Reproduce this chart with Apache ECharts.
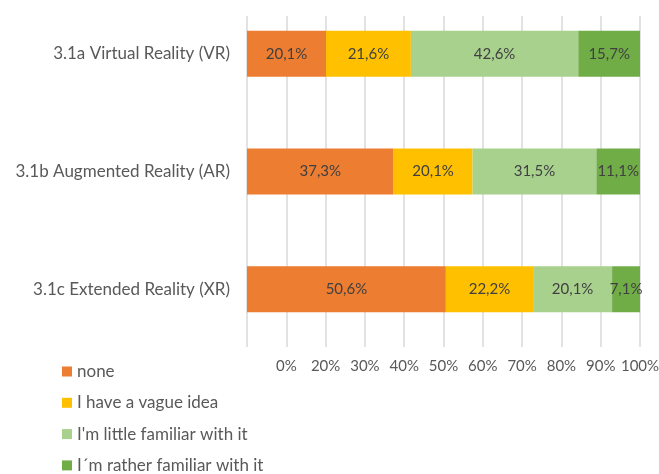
<!DOCTYPE html>
<html>
<head>
<meta charset="utf-8">
<script src="https://cdn.jsdelivr.net/npm/echarts@6/dist/echarts.min.js"></script>
<style>html,body{margin:0;padding:0;background:#fff}#c{width:659px;height:474px}</style>
</head>
<body>
<div id="c"></div>
<script>
const categories = ['3.1a Virtual Reality (VR)', '3.1b Augmented Reality (AR)', '3.1c Extended Reality (XR)'];
const seriesNames = ['none', 'I have a vague idea', "I'm little familiar with it", 'I´m rather familiar with it'];
const noneVals = [20.1, 37.3, 50.6];
const vagueVals = [21.6, 20.1, 22.2];
const littleVals = [42.6, 31.5, 20.1];
const ratherVals = [15.7, 11.1, 7.1];
const tickLabels = ['', '0%', '20%', '30%', '40%', '50%', '60%', '70%', '80%', '90%', '100%'];
const colors = ['#ED7D31', '#FFC000', '#A9D18E', '#70AD47'];

const FONT = 'Lato';
const chart = echarts.init(document.getElementById('c'), null, {renderer: 'canvas'});
const vals = [noneVals, vagueVals, littleVals, ratherVals];
const series = vals.map((d, i) => ({
  name: seriesNames[i],
  type: 'bar',
  stack: 'total',
  xAxisIndex: 0,
  yAxisIndex: 0,
  barWidth: 46,
  data: d,
  itemStyle: {color: colors[i]},
  label: {
    show: true,
    position: 'inside',
    color: '#404040',
    fontFamily: FONT,
    fontSize: 15,
    formatter: p => p.value.toFixed(1).replace('.', ',') + '%'
  }
}));

chart.setOption({
  animation: false,
  color: colors,
  legend: {
    orient: 'vertical',
    left: 57,
    top: 358,
    height: 140,
    itemWidth: 10,
    itemHeight: 10,
    itemGap: 14.3,
    icon: 'rect',
    textStyle: {color: '#595959', fontFamily: FONT, fontSize: 17, lineHeight: 17},
    data: seriesNames
  },
  grid: [
    {left: 247, right: 19, top: -5, height: 353, outerBoundsMode: 'none'},
    {left: 247, right: 19, top: 16, height: 331, outerBoundsMode: 'none'}
  ],
  xAxis: [
    {type: 'value', gridIndex: 0, min: 0, max: 100, interval: 10, show: false},
    {
      type: 'value', gridIndex: 1, min: 0, max: 100, interval: 10,
      axisLine: {show: false}, axisTick: {show: false},
      splitLine: {show: true, lineStyle: {color: '#D9D9D9', width: 1.5}},
      axisLabel: {
        color: '#595959', fontFamily: FONT, fontSize: 15, margin: 12,
        formatter: v => tickLabels[Math.round(v / 10)]
      }
    }
  ],
  yAxis: [
    {
      type: 'category', gridIndex: 0, data: categories, inverse: true,
      axisLine: {show: false}, axisTick: {show: false},
      axisLabel: {color: '#595959', fontFamily: FONT, fontSize: 17, margin: 17}
    },
    {type: 'value', gridIndex: 1, min: 0, max: 1, show: false}
  ],
  series: series
});
</script>
</body>
</html>
